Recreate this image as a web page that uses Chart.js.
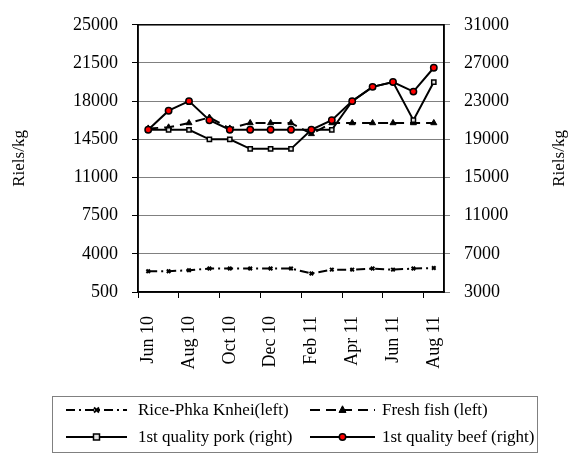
<!DOCTYPE html>
<html>
<head>
<meta charset="utf-8">
<script src="https://cdn.jsdelivr.net/npm/chart.js@4.4.0/dist/chart.umd.min.js"></script>
<style>
  html, body { margin: 0; padding: 0; background: #fff; }
  #wrap { width: 574px; height: 455px; }
</style>
</head>
<body>
<div id="wrap"><canvas id="priceChart" width="574" height="455"></canvas></div>
<script>
const months = ['Jun 10', 'Jul 10', 'Aug 10', 'Sep 10', 'Oct 10', 'Nov 10', 'Dec 10', 'Jan 11',
                'Feb 11', 'Mar 11', 'Apr 11', 'May 11', 'Jun 11', 'Jul 11', 'Aug 11'];
const rice = [2400, 2400, 2500, 2650, 2650, 2650, 2650, 2650, 2200, 2550, 2550, 2650, 2550, 2650, 2700];
const fish = [15500, 15600, 16000, 16500, 15500, 16000, 16000, 16000, 15000, 16000, 16000, 16000, 16000, 16000, 16000];
const pork = [20000, 20000, 20000, 19000, 19000, 18000, 18000, 18000, 20000, 20000, 23000, 24500, 25000, 21000, 25000];
const beef = [20000, 22000, 23000, 21000, 20000, 20000, 20000, 20000, 20000, 21000, 23000, 24500, 25000, 24000, 26500];

const seriesNames = ['Rice-Phka Knhei(left)', 'Fresh fish (left)', '1st quality pork (right)', '1st quality beef (right)'];
const axisTitle = 'Riels/kg';

const serif = "'Liberation Serif', 'Times New Roman', serif";

// frame around the plot area
const framePlugin = {
    id: 'frame',
    beforeDatasetsDraw(chart) {
        const a = chart.chartArea;
        const ctx = chart.ctx;
        ctx.save();
        ctx.strokeStyle = '#000';
        ctx.lineWidth = 1.5;
        ctx.strokeRect(a.left, a.top, a.right - a.left, a.bottom - a.top);
        ctx.restore();
    }
};

// both axis titles read bottom-to-top
const titlePlugin = {
    id: 'axisTitles',
    afterDraw(chart) {
        const a = chart.chartArea;
        const ctx = chart.ctx;
        const midY = (a.top + a.bottom) / 2;
        ctx.save();
        ctx.fillStyle = '#000';
        ctx.font = '17px ' + serif;
        ctx.textAlign = 'center';
        ctx.textBaseline = 'middle';
        [20, 560].forEach(x => {
            ctx.save();
            ctx.translate(x, midY);
            ctx.rotate(-Math.PI / 2);
            ctx.fillText(axisTitle, 0, 0);
            ctx.restore();
        });
        ctx.restore();
    }
};

function drawMarker(ctx, ds, x, y) {
    ctx.save();
    ctx.setLineDash([]);
    ctx.fillStyle = ds.pointBackgroundColor;
    ctx.strokeStyle = ds.pointBorderColor;
    ctx.lineWidth = ds.pointBorderWidth;
    const r = ds.pointRadius;
    ctx.beginPath();
    if (ds.pointStyle === 'circle') {
        ctx.arc(x, y, r, 0, Math.PI * 2);
        ctx.fill();
        ctx.stroke();
    } else if (ds.pointStyle === 'rect') {
        ctx.rect(x - r, y - r, r * 2, r * 2);
        ctx.fill();
        ctx.stroke();
    } else if (ds.pointStyle === 'triangle') {
        ctx.moveTo(x, y - r * 1.2);
        ctx.lineTo(x + r, y + r * 0.7);
        ctx.lineTo(x - r, y + r * 0.7);
        ctx.closePath();
        ctx.fill();
        ctx.stroke();
    } else {
        ctx.moveTo(x - r, y - r); ctx.lineTo(x + r, y + r);
        ctx.moveTo(x + r, y - r); ctx.lineTo(x - r, y + r);
        ctx.stroke();
    }
    ctx.restore();
}

// two-column legend in a box under the chart
const legendPlugin = {
    id: 'boxLegend',
    afterDraw(chart) {
        const ctx = chart.ctx;
        const box = {x: 52, y: 396, w: 485, h: 56};
        const cols = [{x1: 66, x2: 127, tx: 138}, {x1: 310, x2: 375, tx: 382}];
        const rows = [410, 437];
        ctx.save();
        ctx.strokeStyle = '#808080';
        ctx.lineWidth = 1;
        ctx.strokeRect(box.x + 0.5, box.y + 0.5, box.w, box.h);
        chart.data.datasets.forEach((ds, i) => {
            const c = cols[i % 2];
            const y = rows[Math.floor(i / 2)];
            ctx.save();
            ctx.strokeStyle = ds.borderColor;
            ctx.lineWidth = ds.borderWidth;
            ctx.setLineDash(ds.borderDash || []);
            ctx.beginPath();
            ctx.moveTo(c.x1, y);
            ctx.lineTo(c.x2, y);
            ctx.stroke();
            ctx.restore();
            drawMarker(ctx, ds, (c.x1 + c.x2) / 2, y);
            ctx.fillStyle = '#000';
            ctx.font = '17px ' + serif;
            ctx.textAlign = 'left';
            ctx.textBaseline = 'middle';
            ctx.fillText(ds.label, c.tx, y + 1);
        });
        ctx.restore();
    }
};

const plainTick = value => String(value);

const ctx = document.getElementById('priceChart').getContext('2d');
new Chart(ctx, {
    type: 'line',
    data: {
        labels: months,
        datasets: [
            {
                label: seriesNames[0],
                data: rice,
                yAxisID: 'yLeft',
                borderColor: '#000',
                borderWidth: 2,
                borderDash: [9, 4, 2, 4],
                pointStyle: 'crossRot',
                pointRadius: 2.5,
                pointBorderWidth: 2,
                pointBackgroundColor: '#000',
                pointBorderColor: '#000',
                order: 3
            },
            {
                label: seriesNames[1],
                data: fish,
                yAxisID: 'yLeft',
                borderColor: '#000',
                borderWidth: 2,
                borderDash: [10, 6],
                pointStyle: 'triangle',
                pointRadius: 3.5,
                pointBorderWidth: 1,
                pointBackgroundColor: '#000',
                pointBorderColor: '#000',
                order: 2
            },
            {
                label: seriesNames[2],
                data: pork,
                yAxisID: 'yRight',
                borderColor: '#000',
                borderWidth: 2,
                pointStyle: 'rect',
                pointRadius: 3,
                pointBorderWidth: 1.5,
                pointBackgroundColor: '#e0e0e0',
                pointBorderColor: '#000',
                order: 1
            },
            {
                label: seriesNames[3],
                data: beef,
                yAxisID: 'yRight',
                borderColor: '#000',
                borderWidth: 2,
                pointStyle: 'circle',
                pointRadius: 3.2,
                pointBorderWidth: 1.5,
                pointBackgroundColor: '#ff0000',
                pointBorderColor: '#000',
                order: 0
            }
        ]
    },
    options: {
        responsive: false,
        animation: false,
        devicePixelRatio: 1,
        layout: {padding: {top: 15, bottom: 0, left: 0, right: 0}},
        elements: {line: {tension: 0}},
        plugins: {
            legend: {display: false},
            tooltip: {enabled: false}
        },
        scales: {
            x: {
                type: 'category',
                offset: true,
                afterFit(scale) { scale.height = 163; },
                grid: {
                    offset: true,
                    drawOnChartArea: false,
                    tickLength: 6,
                    tickColor: c => (c.index % 2 === 0 ? '#000' : 'rgba(0,0,0,0)'),
                    lineWidth: 1
                },
                border: {color: '#000', width: 1.5},
                ticks: {
                    autoSkip: false,
                    minRotation: 90,
                    maxRotation: 90,
                    padding: 18,
                    color: '#000',
                    font: {family: serif, size: 18},
                    callback(value, index) {
                        return index % 2 === 0 ? this.getLabelForValue(value) : '';
                    }
                }
            },
            yLeft: {
                position: 'left',
                min: 500,
                max: 25000,
                afterFit(scale) { scale.width = 138; },
                grid: {color: '#808080', lineWidth: 1, tickLength: 6, tickColor: '#000'},
                border: {color: '#000', width: 1.5},
                ticks: {
                    stepSize: 3500,
                    padding: 14,
                    color: '#000',
                    font: {family: serif, size: 18},
                    callback: plainTick
                }
            },
            yRight: {
                position: 'right',
                min: 3000,
                max: 31000,
                afterFit(scale) { scale.width = 130; },
                grid: {drawOnChartArea: false, tickLength: 6, tickColor: '#808080'},
                border: {color: '#000', width: 1.5},
                ticks: {
                    stepSize: 4000,
                    padding: 14,
                    color: '#000',
                    font: {family: serif, size: 18},
                    callback: plainTick
                }
            }
        }
    },
    plugins: [framePlugin, titlePlugin, legendPlugin]
});
</script>
</body>
</html>
